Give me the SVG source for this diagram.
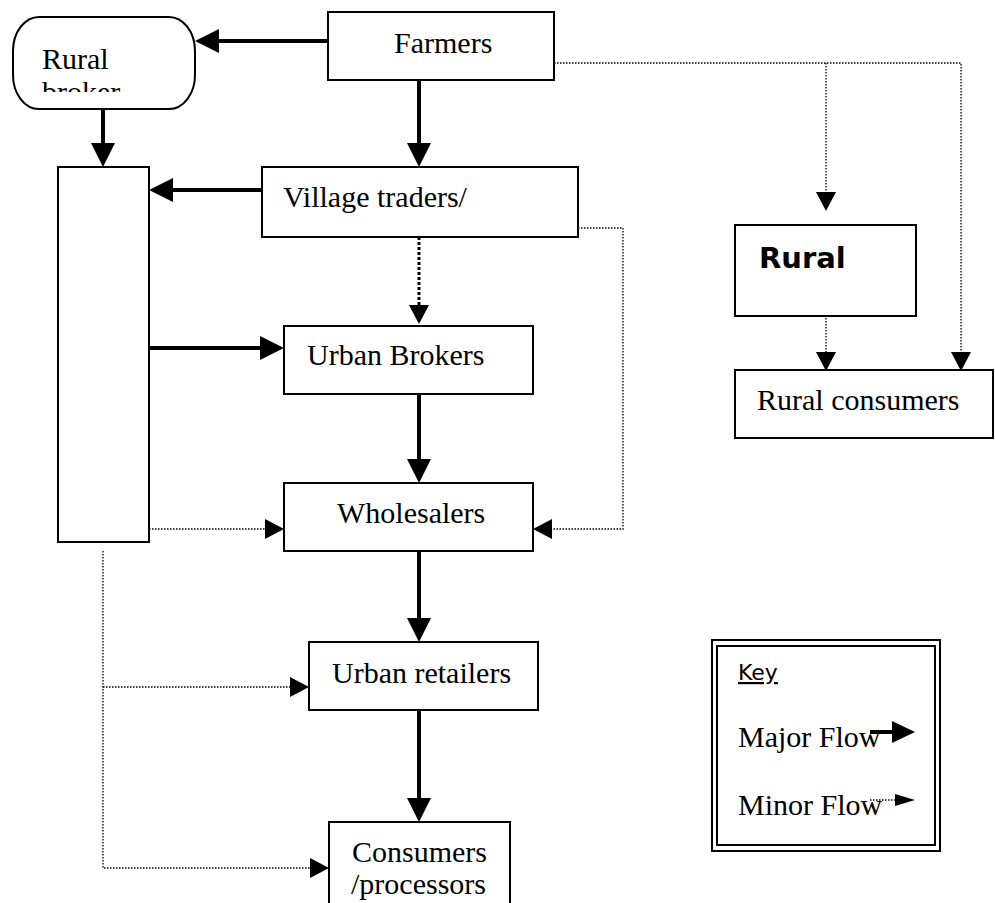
<svg xmlns="http://www.w3.org/2000/svg" width="995" height="903" viewBox="0 0 995 903">
<style>
.box{fill:#fff;stroke:#000;stroke-width:2}
.t{font-family:"Liberation Serif","Times New Roman",serif;font-size:30px;fill:#000}
.major{fill:none;stroke:#000;stroke-width:4}
.minor{fill:none;stroke:#000;stroke-width:1.3;stroke-dasharray:1.5 1.5}
.minorthick{fill:none;stroke:#000;stroke-width:3;stroke-dasharray:3 2}
</style>
<defs>
<marker id="hmaj" markerUnits="userSpaceOnUse" markerWidth="24" markerHeight="24" viewBox="0 0 24 24" refX="0" refY="12" orient="auto"><path d="M0,0 L24,12 L0,24 z" fill="#000"/></marker>
<marker id="hmin" markerUnits="userSpaceOnUse" markerWidth="19" markerHeight="20" viewBox="0 0 19 20" refX="0" refY="10" orient="auto"><path d="M0,0 L19,10 L0,20 z" fill="#000"/></marker>
<marker id="hkey" markerUnits="userSpaceOnUse" markerWidth="20" markerHeight="12" viewBox="0 0 20 12" refX="0" refY="6" orient="auto"><path d="M0,0 L20,6 L0,12 z" fill="#000"/></marker>
<clipPath id="brokerclip"><rect x="14" y="18" width="180" height="74"/></clipPath>
</defs>

<g id="connectors">
<line class="major" x1="328" y1="41" x2="219" y2="41" marker-end="url(#hmaj)"/>
<line class="major" x1="103" y1="109" x2="103" y2="143" marker-end="url(#hmaj)"/>
<line class="major" x1="419" y1="80" x2="419" y2="143" marker-end="url(#hmaj)"/>
<line class="major" x1="262" y1="190" x2="173" y2="190" marker-end="url(#hmaj)"/>
<line class="major" x1="149" y1="348" x2="260" y2="348" marker-end="url(#hmaj)"/>
<line class="minorthick" x1="419" y1="237" x2="419" y2="305" marker-end="url(#hmin)"/>
<line class="major" x1="419" y1="394" x2="419" y2="459" marker-end="url(#hmaj)"/>
<line class="minor" x1="149" y1="529" x2="265" y2="529" marker-end="url(#hmin)"/>
<polyline class="minor" points="578,228 623,228 623,529 552,529" marker-end="url(#hmin)"/>
<line class="major" x1="419" y1="551" x2="419" y2="618" marker-end="url(#hmaj)"/>
<line class="major" x1="419" y1="710" x2="419" y2="798" marker-end="url(#hmaj)"/>
<polyline class="minor" points="103,551 103,868 310,868" marker-end="url(#hmin)"/>
<line class="minor" x1="103" y1="687" x2="290" y2="687" marker-end="url(#hmin)"/>
<polyline class="minor" points="554,63 961,63 961,352" marker-end="url(#hmin)"/>
<line class="minor" x1="826" y1="63" x2="826" y2="192" marker-end="url(#hmin)"/>
<line class="minor" x1="826" y1="303" x2="826" y2="352" marker-end="url(#hmin)"/>
</g>

<g id="farmers">
<rect class="box" x="328" y="12" width="226" height="68"/>
<text class="t" x="394" y="53">Farmers</text>
</g>

<g id="rural-broker">
<rect class="box" x="13" y="17" width="182" height="92" rx="26" ry="34"/>
<g clip-path="url(#brokerclip)">
<text class="t" x="42" y="69">Rural</text>
<text class="t" x="42" y="102">broker</text>
</g>
</g>

<g id="tall-box">
<rect class="box" x="58" y="167" width="91" height="375"/>
</g>

<g id="village-traders">
<rect class="box" x="262" y="167" width="316" height="70"/>
<text class="t" x="283" y="207">Village traders/</text>
</g>

<g id="urban-brokers">
<rect class="box" x="284" y="326" width="249" height="68"/>
<text class="t" x="307" y="365">Urban Brokers</text>
</g>

<g id="wholesalers">
<rect class="box" x="284" y="483" width="249" height="68"/>
<text class="t" x="337" y="523">Wholesalers</text>
</g>

<g id="urban-retailers">
<rect class="box" x="309" y="642" width="229" height="68"/>
<text class="t" x="332" y="683">Urban retailers</text>
</g>

<g id="consumers">
<rect class="box" x="329" y="822" width="181" height="100"/>
<text class="t" x="352" y="862">Consumers</text>
<text class="t" x="351" y="894">/processors</text>
</g>

<g id="rural">
<rect class="box" x="735" y="225" width="181" height="91"/>
<text x="759" y="268" font-family="'DejaVu Sans',Verdana,sans-serif" font-weight="bold" font-size="29">Rural</text>
</g>

<g id="rural-consumers">
<rect class="box" x="735" y="370" width="258" height="68"/>
<text class="t" x="757" y="410">Rural consumers</text>
</g>

<g id="key">
<rect x="712" y="640" width="228" height="211" fill="#fff" stroke="#000" stroke-width="2"/>
<rect x="717" y="646" width="218" height="199" fill="none" stroke="#000" stroke-width="2"/>
<text x="738" y="680" font-family="'DejaVu Sans',Verdana,sans-serif" font-size="22" text-decoration="underline">Key</text>
<text class="t" x="738" y="747">Major Flow</text>
<line class="major" x1="870" y1="732" x2="893" y2="732"/>
<path d="M892,721 L915,732 L892,743 z" fill="#000"/>
<text class="t" x="738" y="815">Minor Flow</text>
<line class="minor" x1="870" y1="800" x2="895" y2="800" marker-end="url(#hkey)"/>
</g>
</svg>
